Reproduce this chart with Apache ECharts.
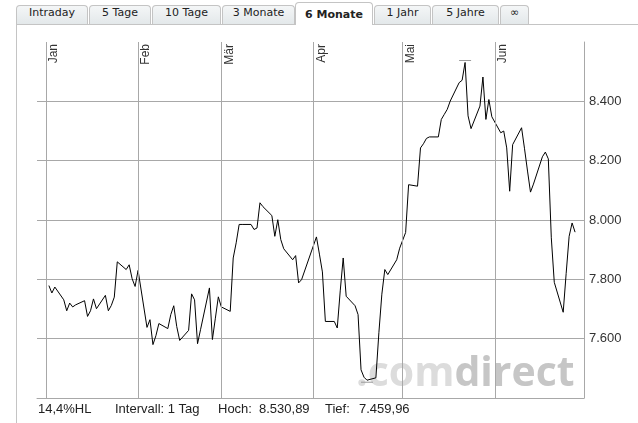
<!DOCTYPE html>
<html>
<head>
<meta charset="utf-8">
<title>6 Monate</title>
<script src="https://cdn.jsdelivr.net/npm/echarts@6/dist/echarts.min.js"></script>
<style>
  body { margin: 0; background: #fff; }
  #wrap { position: relative; width: 638px; height: 423px; overflow: hidden; background: #fff; }
  #frame { position: absolute; left: 16px; top: 24px; width: 700px; height: 500px;
           border-left: 1px solid #c4c4c4; border-top: 1px solid #c4c4c4; }
  .tab { position: absolute; top: 5px; height: 19px; line-height: 19px; text-align: center;
         font: 11px "DejaVu Sans", Verdana, sans-serif; color: #222;
         background: linear-gradient(#f4f6f7, #e3e8ea); border: 1px solid #c4c4c4; border-bottom: none;
         border-radius: 4px 4px 0 0; box-sizing: border-box; }
  .tab.active { top: 2px; height: 23px; line-height: 23px; background: #fff; font-weight: bold; }
  #chart { position: absolute; left: 0; top: 0; width: 638px; height: 423px; }
</style>
</head>
<body>
<div id="wrap">
  <div id="frame"></div>
  <div class="tab" style="left:16px;width:72px">Intraday</div>
  <div class="tab" style="left:89px;width:62px">5 Tage</div>
  <div class="tab" style="left:152px;width:69px">10 Tage</div>
  <div class="tab" style="left:222px;width:73px">3 Monate</div>
  <div class="tab active" style="left:295px;width:78px">6 Monate</div>
  <div class="tab" style="left:374px;width:57px">1 Jahr</div>
  <div class="tab" style="left:432px;width:67px">5 Jahre</div>
  <div class="tab" style="left:500px;width:29px">∞</div>
  <div id="chart"></div>
</div>
<script>
// trading days (Jan - Jun)
var dates = [
  '2013-01-02','2013-01-03','2013-01-04','2013-01-07','2013-01-08','2013-01-09','2013-01-10','2013-01-11',
  '2013-01-14','2013-01-15','2013-01-16','2013-01-17','2013-01-18','2013-01-21','2013-01-22','2013-01-23',
  '2013-01-24','2013-01-25','2013-01-28','2013-01-29','2013-01-30','2013-01-31',
  '2013-02-01','2013-02-04','2013-02-05','2013-02-06','2013-02-07','2013-02-08','2013-02-11','2013-02-12',
  '2013-02-13','2013-02-14','2013-02-15','2013-02-18','2013-02-19','2013-02-20','2013-02-21','2013-02-22',
  '2013-02-25','2013-02-26','2013-02-27','2013-02-28',
  '2013-03-01','2013-03-04','2013-03-05','2013-03-06','2013-03-07','2013-03-08','2013-03-11','2013-03-12',
  '2013-03-13','2013-03-14','2013-03-15','2013-03-18','2013-03-19','2013-03-20','2013-03-21','2013-03-22',
  '2013-03-25','2013-03-26','2013-03-27','2013-03-28',
  '2013-04-02','2013-04-03','2013-04-04','2013-04-05','2013-04-08','2013-04-09','2013-04-10','2013-04-11',
  '2013-04-12','2013-04-15','2013-04-16','2013-04-17','2013-04-18','2013-04-19','2013-04-22','2013-04-23',
  '2013-04-24','2013-04-25','2013-04-26','2013-04-29','2013-04-30',
  '2013-05-02','2013-05-03','2013-05-06','2013-05-07','2013-05-08','2013-05-09','2013-05-10','2013-05-13',
  '2013-05-14','2013-05-15','2013-05-16','2013-05-17','2013-05-20','2013-05-21','2013-05-22','2013-05-23',
  '2013-05-24','2013-05-27','2013-05-28','2013-05-29','2013-05-30','2013-05-31',
  '2013-06-03','2013-06-04','2013-06-05','2013-06-06','2013-06-07','2013-06-10','2013-06-11','2013-06-12',
  '2013-06-13','2013-06-14','2013-06-17','2013-06-18','2013-06-19','2013-06-20','2013-06-21','2013-06-24',
  '2013-06-25','2013-06-26','2013-06-27','2013-06-28'
];

var closes = [
  7779, 7754, 7774, 7731, 7694, 7720, 7707, 7714,
  7728, 7675, 7694, 7734, 7701, 7746, 7694, 7712,
  7740, 7859, 7833, 7849, 7802, 7776,
  7830, 7638, 7664, 7580, 7610, 7651, 7634, 7681,
  7711, 7641, 7594, 7628, 7751, 7731, 7583, 7630,
  7771, 7597, 7669, 7741,
  7707, 7692, 7872, 7923, 7985, 7985, 7985, 7968,
  7973, 8058, 8045, 8015, 7945, 8001, 7934, 7903,
  7866, 7880, 7788, 7799,
  7943, 7885, 7825, 7658, 7658, 7636, 7761, 7872,
  7743, 7711, 7681, 7495, 7470, 7460, 7468, 7620,
  7750, 7833, 7816, 7866, 7905,
  7958, 8119, 8114, 8243, 8257, 8275, 8280, 8280,
  8339, 8356, 8373, 8401, 8463, 8471, 8531, 8351,
  8308, 8384, 8482, 8339, 8406, 8348,
  8294, 8300, 8243, 8097, 8254, 8311, 8240, 8165,
  8094, 8121, 8213, 8229, 8206, 7940, 7790, 7689,
  7820, 7945, 7990, 7959
];

var monthStarts = ['2013-01-01', '2013-02-01', '2013-03-01', '2013-04-01', '2013-05-01', '2013-06-01'];
var monthLabels = ['Jan', 'Feb', 'Mär', 'Apr', 'Mai', 'Jun'];

var footer = ['14,4%HL', 'Intervall: 1 Tag', 'Hoch:', '8.530,89', 'Tief:', '7.459,96'];

function fmt(v) {
  return String(v).replace(/\B(?=(\d{3})+(?!\d))/g, '.');
}

var chart = echarts.init(document.getElementById('chart'));

var footerX = [38, 115, 218, 259, 325, 359];

chart.setOption({
  animation: false,
  grid: { left: 37, right: 54, top: 42, bottom: 25 },
  xAxis: {
    type: 'time',
    min: '2012-12-29',
    max: '2013-07-01',
    axisLine: { show: true, lineStyle: { color: '#a8a8a8', width: 1 } },
    axisTick: { show: false },
    axisLabel: { show: false },
    splitLine: { show: false }
  },
  yAxis: {
    type: 'value',
    position: 'right',
    min: 7400,
    max: 8600,
    interval: 200,
    axisLine: { show: true, lineStyle: { color: '#a8a8a8', width: 1 } },
    axisTick: { show: false },
    axisLabel: {
      margin: 5,
      color: '#333',
      fontFamily: '"Liberation Sans", Arial, sans-serif',
      fontSize: 13,
      showMinLabel: false,
      showMaxLabel: false,
      formatter: fmt
    },
    splitLine: { show: true, showMaxLine: false, lineStyle: { color: '#a8a8a8', width: 1 } }
  },
  series: [
    {
      // month grid lines with rotated labels
      type: 'line',
      data: [],
      z: 1,
      markLine: {
        silent: true,
        symbol: 'none',
        animation: false,
        lineStyle: { color: '#a8a8a8', width: 1, type: 'solid' },
        label: {
          position: 'insideEndBottom',
          color: '#333',
          fontFamily: '"Liberation Sans", Arial, sans-serif',
          fontSize: 12,
          distance: 2
        },
        data: monthStarts.map(function (d, i) {
          return { xAxis: echarts.number.parseDate(d).getTime(), label: { formatter: monthLabels[i] } };
        })
      }
    },
    {
      type: 'line',
      z: 3,
      data: dates.map(function (d, i) { return [d, closes[i]]; }),
      showSymbol: false,
      symbol: 'none',
      lineStyle: { color: '#000', width: 1 },
      markPoint: {
        silent: true,
        symbol: 'rect',
        symbolSize: [12, 1],
        itemStyle: { color: '#999' },
        label: { show: false },
        data: [
          { type: 'max', symbolOffset: [0, -2] },
          { type: 'min', symbolOffset: [0, 2] }
        ]
      }
    }
  ],
  graphic: [
    {
      // watermark
      type: 'text',
      z: -10,
      silent: true,
      x: 356,
      y: 374,
      style: {
        text: '{a|.com}{b|direct}',
        verticalAlign: 'middle',
        font: 'bold 41px "Open Sans", sans-serif',
        rich: {
          a: { fill: '#dcdcdc', font: 'bold 41px "Open Sans", sans-serif' },
          b: { fill: '#c6c6c6', font: 'bold 41px "Open Sans", sans-serif' }
        }
      }
    }
  ].concat(footer.map(function (t, i) {
    return {
      type: 'text',
      silent: true,
      x: footerX[i],
      y: 409,
      style: {
        text: t,
        verticalAlign: 'middle',
        font: '13px "Liberation Sans", Arial, sans-serif',
        fill: '#222'
      }
    };
  }))
});
</script>
</body>
</html>
